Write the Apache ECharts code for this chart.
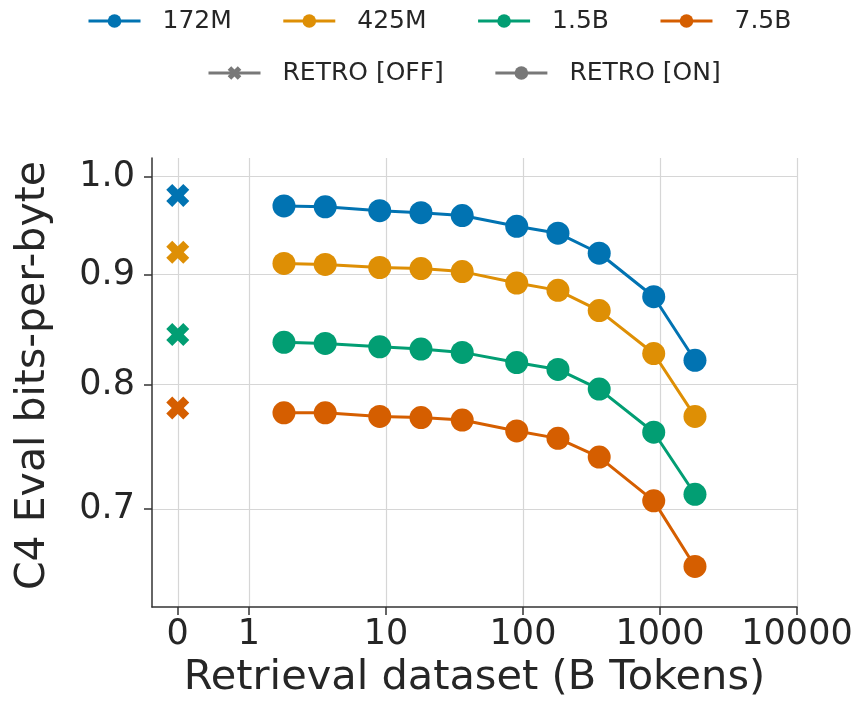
<!DOCTYPE html>
<html><head><meta charset="utf-8">
<script src="https://cdn.jsdelivr.net/npm/echarts@6/dist/echarts.min.js"></script>
<style>html,body{margin:0;padding:0;background:#fff}#c{width:860px;height:704px}</style>
</head><body><div id="c"></div>
<script>
// ---- data ----
const tokens = [1.8, 3.6, 9, 18, 36, 90, 180, 360, 900, 1800];
const models = ['172M', '425M', '1.5B', '7.5B'];
const retroOn172M = [0.969, 0.968, 0.964, 0.962, 0.959, 0.948, 0.941, 0.921, 0.879, 0.821];
const retroOn425M = [0.911, 0.910, 0.907, 0.906, 0.903, 0.892, 0.885, 0.866, 0.827, 0.773];
const retroOn1_5B = [0.837, 0.836, 0.833, 0.831, 0.828, 0.819, 0.813, 0.796, 0.760, 0.711];
const retroOn7_5B = [0.776, 0.776, 0.773, 0.772, 0.770, 0.761, 0.755, 0.740, 0.706, 0.658];
const retroOff = [0.980, 0.922, 0.844, 0.780];
const xTickValues = [0, 1, 10, 100, 1000, 10000];
const xTickLabels = ['0', '1', '10', '100', '1000', '10000'];
const yTickValues = [0.7, 0.8, 0.9, 1.0];
const yTickLabels = ['0.7', '0.8', '0.9', '1.0'];
const legendRetro = ['RETRO [OFF]', 'RETRO [ON]'];

// ---- styles ----
const colors = ['#0173b2', '#de8f05', '#029e73', '#d55e00'];
const gray = '#787878';
const textColor = '#262626';
const font = 'DejaVu Sans';
const xPath = 'path://M0.26,0 L0.5,0.24 L0.74,0 L1,0.26 L0.76,0.5 L1,0.74 L0.74,1 L0.5,0.76 L0.26,1 L0,0.74 L0.24,0.5 L0,0.26 Z';

// symlog-like x transform (0 sits in a linear region left of 1), log y
const ZERO = -0.52;
const tx = v => v === 0 ? ZERO : Math.log10(v);
const ty = v => Math.log10(v);

const onSeries = [retroOn172M, retroOn425M, retroOn1_5B, retroOn7_5B];
const xPos = xTickValues.map(tx);
const yPos = yTickValues.map(ty);
function nearestLabel(v, pos, labels) {
  let best = 0;
  for (let i = 1; i < pos.length; i++) if (Math.abs(pos[i] - v) < Math.abs(pos[best] - v)) best = i;
  return labels[best];
}

const axisLineStyle = { color: '#333333', width: 1.5 };
const splitStyle = { color: '#d6d6d6', width: 1.2 };

const series = [];
models.forEach((m, i) => {
  series.push({
    name: m, type: 'line', symbol: 'circle', symbolSize: 23, showSymbol: true,
    data: tokens.map((t, j) => [tx(t), ty(onSeries[i][j])]),
    lineStyle: { width: 3, color: colors[i] }, itemStyle: { color: colors[i], opacity: 1 },
    emphasis: { disabled: true }, z: 3
  });
});
series.push({
  name: 'retro-off-points', type: 'scatter', symbol: xPath, symbolSize: 23,
  data: retroOff.map((v, i) => ({ value: [ZERO, ty(v)], itemStyle: { color: colors[i], opacity: 1 } })),
  itemStyle: { opacity: 1 }, emphasis: { disabled: true }, z: 3
});
series.push({
  name: legendRetro[0], type: 'line', symbol: xPath, data: [],
  lineStyle: { width: 3, color: gray }, itemStyle: { color: gray }
});
series.push({
  name: legendRetro[1], type: 'line', symbol: 'circle', data: [],
  lineStyle: { width: 3, color: gray }, itemStyle: { color: gray }
});

const legendCommon = {
  orient: 'horizontal', padding: 0, itemWidth: 52, itemHeight: 17, itemGap: 50,
  selectedMode: false,
  lineStyle: { width: 3 },
  textStyle: { fontSize: 25, fontFamily: font, color: textColor, padding: [0, 0, 0, 17], lineHeight: 30 }
};

const option = {
  animation: false,
  backgroundColor: '#ffffff',
  legend: [
    Object.assign({}, legendCommon, { data: models, left: 87, top: 6 }),
    Object.assign({}, legendCommon, { data: legendRetro, left: 207, top: 58 })
  ],
  grid: { left: 152, right: 63, top: 158, bottom: 94, containLabel: false },
  xAxis: {
    type: 'value', min: -0.708, max: 4,
    axisLine: { show: true, onZero: false, lineStyle: axisLineStyle },
    axisTick: { show: true, length: 8, customValues: xPos, lineStyle: axisLineStyle },
    axisLabel: {
      customValues: xPos, fontSize: 35, fontFamily: font, color: textColor, margin: 10,
      formatter: v => nearestLabel(v, xPos, xTickLabels)
    },
    splitLine: { show: true, lineStyle: splitStyle },
    name: 'Retrieval dataset (B Tokens)', nameLocation: 'middle', nameGap: 47,
    nameTextStyle: { fontSize: 41.5, fontFamily: font, color: textColor }
  },
  yAxis: {
    type: 'value', min: -0.20073, max: 0.00866,
    axisLine: { show: true, onZero: false, lineStyle: axisLineStyle },
    axisTick: { show: true, length: 8, customValues: yPos, lineStyle: axisLineStyle },
    axisLabel: {
      customValues: yPos, fontSize: 35, fontFamily: font, color: textColor, margin: 17,
      formatter: v => nearestLabel(v, yPos, yTickLabels)
    },
    splitLine: { show: true, lineStyle: splitStyle },
    name: 'C4 Eval bits-per-byte', nameLocation: 'middle', nameGap: 98,
    nameTextStyle: { fontSize: 41, fontFamily: font, color: textColor, padding: [0, 0, 0, 14] }
  },
  series: series
};

const chart = echarts.init(document.getElementById('c'), null, { renderer: 'canvas' });
chart.setOption(option);
</script>
</body></html>
